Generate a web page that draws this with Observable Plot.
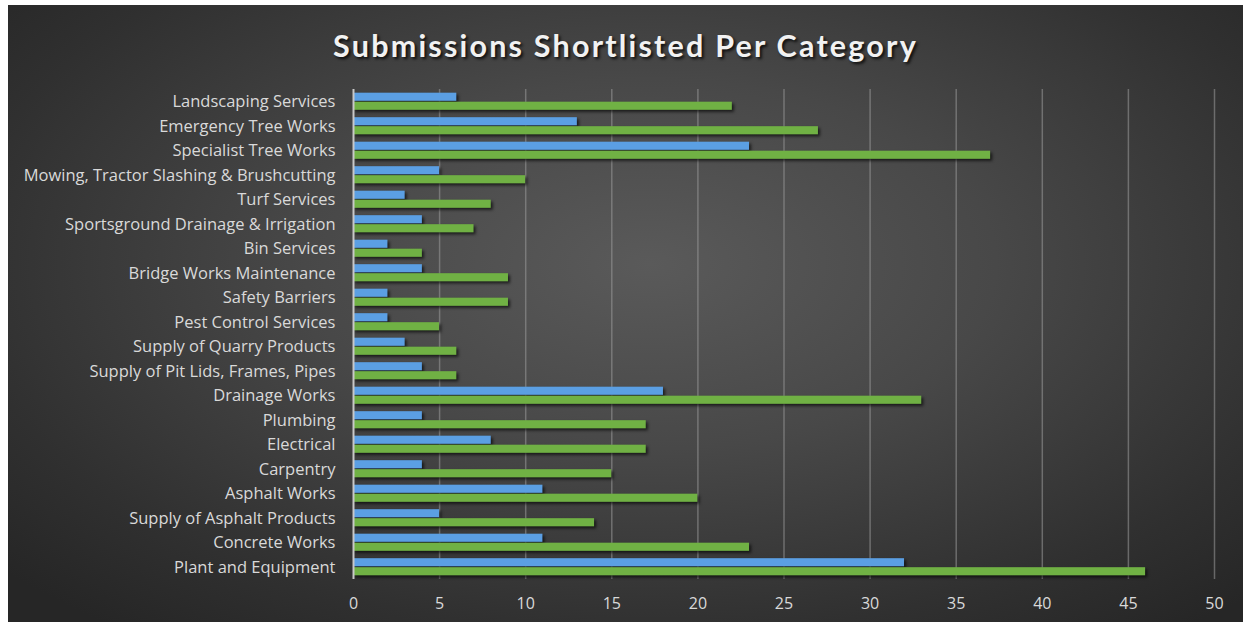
<!DOCTYPE html>
<html>
<head>
<meta charset="utf-8">
<script src="https://cdn.jsdelivr.net/npm/d3@7"></script>
<script src="https://cdn.jsdelivr.net/npm/@observablehq/plot@0.6"></script>
<style>
  html, body { margin: 0; padding: 0; background: #ffffff; }
  #frame {
    position: absolute; left: 8px; top: 5px; width: 1235px; height: 617px; overflow: hidden;
    background: radial-gradient(ellipse 70% 75% at 52% 42%, #5a5a5a 0%, #484848 40%, #303030 80%, #262626 100%);
  }
  #title {
    position: absolute; left: 0; top: 0; width: 100%; height: 80px;
    display: flex; align-items: center; justify-content: center;
    font-family: Lato, "Open Sans", sans-serif; font-weight: 700; font-size: 30.5px;
    letter-spacing: 2.2px; color: #f2f2f2; text-shadow: 2px 2px 3px rgba(0,0,0,0.8);
  }
  #chart { position: absolute; left: 0; top: 78px; line-height: 0; }
  #chart svg { display: block; }
  #chart g[aria-label="bar"] { filter: drop-shadow(2px 2px 1.5px rgba(0,0,0,0.65)); }
</style>
</head>
<body>
<div id="frame">
  <div id="title">Submissions Shortlisted Per Category</div>
  <div id="chart"></div>
</div>
<script>
const categories = [
  "Landscaping Services",
  "Emergency Tree Works",
  "Specialist Tree Works",
  "Mowing, Tractor Slashing & Brushcutting",
  "Turf Services",
  "Sportsground Drainage & Irrigation",
  "Bin Services",
  "Bridge Works Maintenance",
  "Safety Barriers",
  "Pest Control Services",
  "Supply of Quarry Products",
  "Supply of Pit Lids, Frames, Pipes",
  "Drainage Works",
  "Plumbing",
  "Electrical",
  "Carpentry",
  "Asphalt Works",
  "Supply of Asphalt Products",
  "Concrete Works",
  "Plant and Equipment"
];
// blue bars (upper bar in each pair)
const blueValues = [6, 13, 23, 5, 3, 4, 2, 4, 2, 2, 3, 4, 18, 4, 8, 4, 11, 5, 11, 32];
// green bars (lower bar in each pair)
const greenValues = [22, 27, 37, 10, 8, 7, 4, 9, 9, 5, 6, 6, 33, 17, 17, 15, 20, 14, 23, 46];
const xTicks = [0, 5, 10, 15, 20, 25, 30, 35, 40, 45, 50];

const blueColor = "#5b9fe3";
const greenColor = "#70b144";

const blueRows = categories.map((c, i) => ({category: c, value: blueValues[i]}));
const greenRows = categories.map((c, i) => ({category: c, value: greenValues[i]}));

const chart = Plot.plot({
  width: 1235,
  height: 539,
  marginTop: 6,
  marginBottom: 43,
  marginLeft: 345,
  marginRight: 29,
  style: {background: "transparent", color: "#d9d9d9", fontFamily: "'Open Sans', Lato, sans-serif", fontSize: "16px"},
  x: {domain: [0, 50], label: null},
  y: {domain: categories, paddingInner: 0.3, paddingOuter: 0.15, round: false, label: null},
  marks: [
    Plot.gridX(xTicks.filter(d => d > 0), {stroke: "#9a9a9a", strokeOpacity: 0.55, strokeWidth: 1.5}),
    Plot.barX(blueRows, {x: "value", y: "category", fill: blueColor, insetBottom: 9}),
    Plot.barX(greenRows, {x: "value", y: "category", fill: greenColor, insetTop: 9}),
    Plot.ruleX([0], {stroke: "#c8c8c8", strokeWidth: 2}),
    Plot.axisX({ticks: xTicks, tickSize: 0, tickPadding: 18, label: null, fontSize: 16, fill: "#d9d9d9"}),
    Plot.axisY({tickSize: 0, tickPadding: 18, label: null, fontSize: 16.5, fill: "#d9d9d9"})
  ]
});
document.getElementById("chart").appendChild(chart);
</script>
</body>
</html>
